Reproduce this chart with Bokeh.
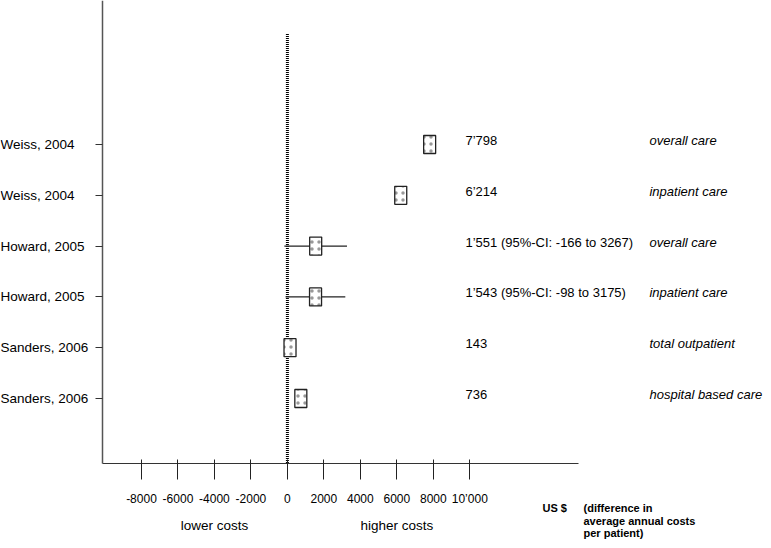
from bokeh.plotting import figure
from bokeh.models import Range1d, LinearAxis, FixedTicker
from bokeh.core.properties import value
from bokeh.embed import file_html
from bokeh.resources import INLINE

# ---- data ----
studies = ["Weiss, 2004", "Weiss, 2004", "Howard, 2005", "Howard, 2005",
           "Sanders, 2006", "Sanders, 2006"]
estimates = [7798, 6214, 1551, 1543, 143, 736]
ci_low = [None, None, -166, -98, None, None]
ci_high = [None, None, 3267, 3175, None, None]
value_labels = ["7\u2019798", "6\u2019214", "1\u2019551 (95%-CI: -166 to 3267)",
                "1\u2019543 (95%-CI: -98 to 3175)", "143", "736"]
settings = ["overall care", "inpatient care", "overall care", "inpatient care",
            "total outpatient", "hospital based care"]
tick_values = [-8000, -6000, -4000, -2000, 0, 2000, 4000, 6000, 8000, 10000]
tick_labels = ["-8000", "-6000", "-4000", "-2000", "0", "2000", "4000", "6000",
               "8000", "10\u2019000"]
side_labels = ["lower costs", "higher costs"]
side_centers = [-4000, 6000]
unit_label = "US $"
unit_note = ["(difference in", "average annual costs", "per patient)"]

# ---- layout ----
n = len(studies)
rows = [n - i for i in range(n)]          # 6 .. 1, top to bottom
X0, X1 = -15729, 26102
Y0, Y1 = -1.795, 8.835
axis_y = -0.27
left_x = -10137
right_x = 15959
zero_top = 8.185
value_x = 9764
setting_x = 19850
unit_x = 13986
note_x = 16234
bottom_y = -1.50
unit_y = -1.165

FONT = "Liberation Sans"

p = figure(width=763, height=540, x_range=Range1d(X0, X1), y_range=Range1d(Y0, Y1),
           x_axis_type=None, y_axis_type=None, toolbar_location=None,
           output_backend="svg", min_border=0, outline_line_color=None)
p.xgrid.visible = False
p.ygrid.visible = False

xaxis = LinearAxis(ticker=FixedTicker(ticks=tick_values), fixed_location=axis_y,
                   bounds=(left_x, right_x))
xaxis.major_label_overrides = {t: l for t, l in zip(tick_values, tick_labels)}
xaxis.major_tick_in = 4
xaxis.major_tick_out = 16
xaxis.minor_tick_line_color = None
xaxis.major_label_standoff = 13
xaxis.major_label_text_font = FONT
xaxis.major_label_text_font_size = "12px"
xaxis.major_label_text_color = "black"
xaxis.axis_line_color = "#333333"
xaxis.major_tick_line_color = "#222222"
p.add_layout(xaxis, "below")

yaxis = LinearAxis(ticker=FixedTicker(ticks=rows), fixed_location=left_x,
                   bounds=(axis_y, Y1))
yaxis.major_label_overrides = {r: "" for r in rows}
yaxis.major_tick_in = 0
yaxis.major_tick_out = 7
yaxis.minor_tick_line_color = None
yaxis.axis_line_color = "#555555"
yaxis.axis_line_width = 1.5
yaxis.major_tick_line_color = "#333333"
p.add_layout(yaxis, "left")

# zero line
p.segment(x0=[0], y0=[axis_y], x1=[0], y1=[zero_top], line_color="black",
          line_width=3, line_dash="1 1")

# confidence intervals
ci_rows = [r for r, lo in zip(rows, ci_low) if lo is not None]
ci_lo = [lo for lo in ci_low if lo is not None]
ci_hi = [hi for hi in ci_high if hi is not None]
p.segment(x0=ci_lo, y0=ci_rows, x1=ci_hi, y1=ci_rows, line_color="#222222",
          line_width=1.1)

# point estimates
p.rect(x=estimates, y=rows, width=12, height=18, width_units="screen",
       height_units="screen", fill_color="white", line_color="#222222",
       line_width=1.3, hatch_pattern="dot", hatch_color="#999999", hatch_scale=7,
       hatch_weight=1)

# study labels (left)
p.text(x=[X0] * n, y=rows, text=studies, text_font=value(FONT),
       text_font_size="13.5px", text_align="left", text_baseline="middle",
       text_color="black", x_offset=0)

# value labels
p.text(x=[value_x] * n, y=rows, text=value_labels, text_font=value(FONT),
       text_font_size="13px", text_align="left", text_baseline="middle",
       text_color="black", y_offset=-4)

# settings (italic)
p.text(x=[setting_x] * n, y=rows, text=settings, text_font=value(FONT),
       text_font_size="13px", text_font_style="italic", text_align="left",
       text_baseline="middle", text_color="black", y_offset=-4)

# bottom texts
p.text(x=side_centers, y=[bottom_y] * 2, text=side_labels, text_font=value(FONT),
       text_font_size="13.5px", text_align="center", text_baseline="middle",
       text_color="black")
p.text(x=[unit_x], y=[unit_y], text=[unit_label], text_font=value(FONT),
       text_font_size="11px", text_font_style="bold", text_align="left",
       text_baseline="middle", text_color="black")
p.text(x=[note_x] * 3, y=[unit_y] * 3, text=unit_note, text_font=value(FONT),
       text_font_size="11px", text_font_style="bold", text_align="left",
       text_baseline="middle", text_color="black", y_offset=[0, 12.5, 25])

open("out.html", "w").write(file_html(p, INLINE))
